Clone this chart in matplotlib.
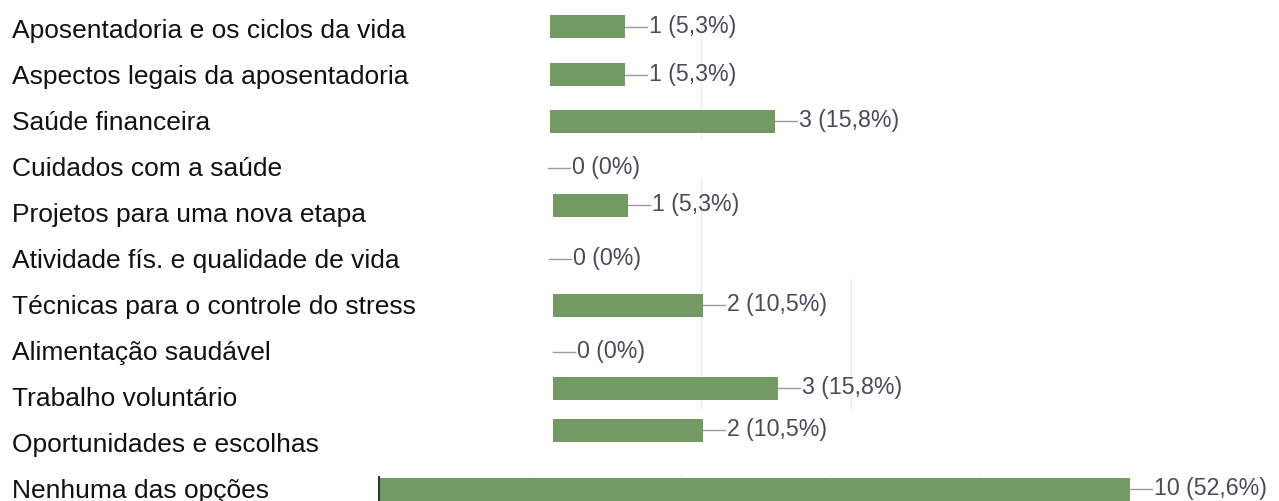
import matplotlib
matplotlib.use("Agg")
import matplotlib.pyplot as plt

categories = [
    "Aposentadoria e os ciclos da vida",
    "Aspectos legais da aposentadoria",
    "Saúde financeira",
    "Cuidados com a saúde",
    "Projetos para uma nova etapa",
    "Atividade fís. e qualidade de vida",
    "Técnicas para o controle do stress",
    "Alimentação saudável",
    "Trabalho voluntário",
    "Oportunidades e escolhas",
    "Nenhuma das opções",
]
counts = [1, 1, 3, 0, 1, 0, 2, 0, 3, 2, 10]
percent_labels = ["5,3%", "5,3%", "15,8%", "0%", "5,3%", "0%", "10,5%", "0%", "15,8%", "10,5%", "52,6%"]

# layout (pixels)
W, H = 1279, 502
PX_PER_UNIT = 75.0
ORIGIN = 551.0
row_label_y = [31 + 46 * i for i in range(len(categories))]
bar_y_shift = [-3.5, -1.5, -1, 0, -9, -1, -1, 0, -10, -14, -1]
baseline_px = [550, 550, 550, 548, 553, 549, 553, 553, 553, 553, 380]
BAR_H = 23
BAR_COLOR = "#749a63"

fig = plt.figure(figsize=(W / 100, H / 100), dpi=100)
ax = fig.add_axes([0, 0, 1, 1])
ax.set_xlim(-ORIGIN / PX_PER_UNIT, (W - ORIGIN) / PX_PER_UNIT)
ax.set_ylim(H, 0)
ax.axis("off")

def u(px):
    return (px - ORIGIN) / PX_PER_UNIT

# faint gridlines
grid_c = "#ebebeb"
ax.vlines([2, 2], [15, 180], [140, 410], color=grid_c, lw=1, zorder=0)
ax.vlines([4], [280], [410], color=grid_c, lw=1, zorder=0)
last_base = u(baseline_px[-1])
ax.vlines([last_base + k for k in (2, 4, 6, 8)], 476, 490, color=grid_c, lw=1, zorder=0)

lefts = [u(b) for b in baseline_px]
ys = [row_label_y[i] + bar_y_shift[i] for i in range(len(categories))]
ax.barh(ys, counts, left=lefts, height=BAR_H, color=BAR_COLOR,
        edgecolor="none", linewidth=0, zorder=2)

# axis line for last bar
ax.vlines([last_base - 0.01], 477, 502, color="#333333", lw=1.5, zorder=3)

for i, cat in enumerate(categories):
    ax.text(-ORIGIN / PX_PER_UNIT + 12 / PX_PER_UNIT, row_label_y[i], cat,
            fontsize=19, family="Liberation Sans", color="#111111",
            va="center", ha="left")
    end = lefts[i] + counts[i]
    ax.plot([end, end + 22 / PX_PER_UNIT], [ys[i], ys[i]], color="#9a9a9a", lw=1, zorder=3)
    ax.text(end + 24 / PX_PER_UNIT, ys[i] - 1, f"{counts[i]} ({percent_labels[i]})",
            fontsize=16.7, family="Liberation Sans", color="#4a4a5a",
            va="center", ha="left")

fig.savefig("out.png", dpi=100, facecolor="white")
